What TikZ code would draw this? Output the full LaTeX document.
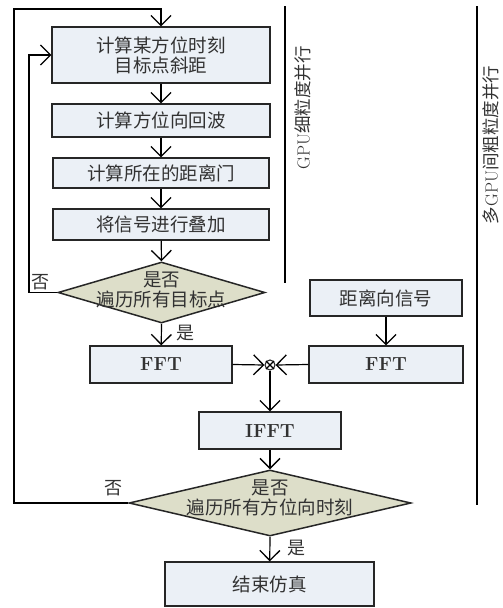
\documentclass[tikz,border=0pt]{standalone}
\usepackage{fontspec}
\newfontfamily\cjk{Noto Sans CJK SC}
\usetikzlibrary{shapes.geometric,arrows.meta}
\definecolor{boxfill}{RGB}{235,240,246}
\definecolor{diafill}{RGB}{221,222,201}
\definecolor{txt}{RGB}{50,50,50}
\begin{document}
\begin{tikzpicture}[x=1pt,y=-1pt,
  every node/.style={text=txt},
  proc/.style={draw=black!85,line width=1.3pt,fill=boxfill,inner sep=0pt,font=\cjk\fontsize{18.5}{20}\selectfont,align=center},
  dia/.style={draw=black!85,line width=1.5pt,fill=diafill,diamond,inner sep=0pt},
  diatext/.style={font=\cjk\fontsize{18.5}{20}\selectfont,align=center},
  lab/.style={font=\cjk\fontsize{18}{20}\selectfont},
  fftfont/.style={font=\fontsize{19}{21}\selectfont\bfseries},
  arr/.style={line width=1.2pt,-{Straight Barb[length=10pt,width=20pt,line width=1.3pt]}},
  sep/.style={line width=2.6pt},
  vtext/.style={rotate=90,inner sep=0pt,font=\fontsize{17.5}{18}\selectfont}]
\useasboundingbox (0,0) rectangle (503,608);
% process boxes
\node[proc,minimum width=218pt,minimum height=56pt] (b1) at (161,55) {计算某方位时刻\\目标点斜距};
\node[proc,minimum width=218pt,minimum height=33pt] (b2) at (161,120.5) {计算方位向回波};
\node[proc,minimum width=216pt,minimum height=30pt] (b3) at (161,173) {计算所在的距离门};
\node[proc,minimum width=216pt,minimum height=31pt] (b4) at (161,224.5) {将信号进行叠加};
\node[dia,minimum width=207pt,minimum height=61pt] (d1) at (161.5,292.5) {};
\node[diatext] (d1t) at (161.5,290) {是否\\遍历所有目标点};
\node[proc,fftfont,minimum width=142pt,minimum height=37pt] (f1) at (161,364.5) {FFT};
\node[proc,minimum width=152pt,minimum height=36pt] (sig) at (386,298) {距离向信号};
\node[proc,fftfont,minimum width=154pt,minimum height=37pt] (f2) at (386,364.5) {FFT};
\node[draw=black!85,line width=1.1pt,circle,minimum size=10pt,inner sep=0pt] (mul) at (270,365) {};
\draw[line width=1.1pt] (mul.north west) -- (mul.south east) (mul.north east) -- (mul.south west);
\node[proc,fftfont,minimum width=142pt,minimum height=37pt] (ifft) at (270,430.5) {IFFT};
\node[dia,minimum width=282pt,minimum height=66pt] (d2) at (270,503) {};
\node[diatext] (d2t) at (270,498) {是否\\遍历所有方位向时刻};
\node[proc,minimum width=209pt,minimum height=44pt] (end) at (269.5,584) {结束仿真};
% connectors
\draw[arr] (b1) -- (b2);
\draw[arr] (b2) -- (b3);
\draw[arr] (b3) -- (b4);
\draw[arr] (b4) -- (d1.north);
\draw[arr] (d1.south) -- (f1);
\draw[arr] (sig) -- (f2);
\draw[arr] (f1.east) -- (mul.west);
\draw[arr] (f2.west) -- (mul.east);
\draw[arr] (mul.south) -- (ifft);
\draw[arr] (ifft) -- (d2.north);
\draw[arr] (d2.south) -- (end);
\coordinate (i1) at (29,55);
\draw[arr] (d1.west) -| (i1) -- (b1.west);
\coordinate (o1) at (14,9);
\draw[arr] (d2.west) -| (o1) -| (b1.north);
% labels
\node[lab] (n1) at (40,282) {否};
\node[lab] (y1) at (185,333) {是};
\node[lab] (n2) at (113,488) {否};
\node[lab] (y2) at (296,548) {是};
% separators
\coordinate (s1a) at (285,6); \coordinate (s1b) at (285,283);
\coordinate (s2a) at (477,6); \coordinate (s2b) at (477,505);
\draw[sep] (s1a) -- (s1b);
\draw[sep] (s2a) -- (s2b);
\node[vtext] (g1) at (303,108) {GPU{\cjk 细粒度并行}};
\node[vtext] (g2) at (491,145) {{\cjk 多}GPU{\cjk 间粗粒度并行}};
\end{tikzpicture}
\end{document}
